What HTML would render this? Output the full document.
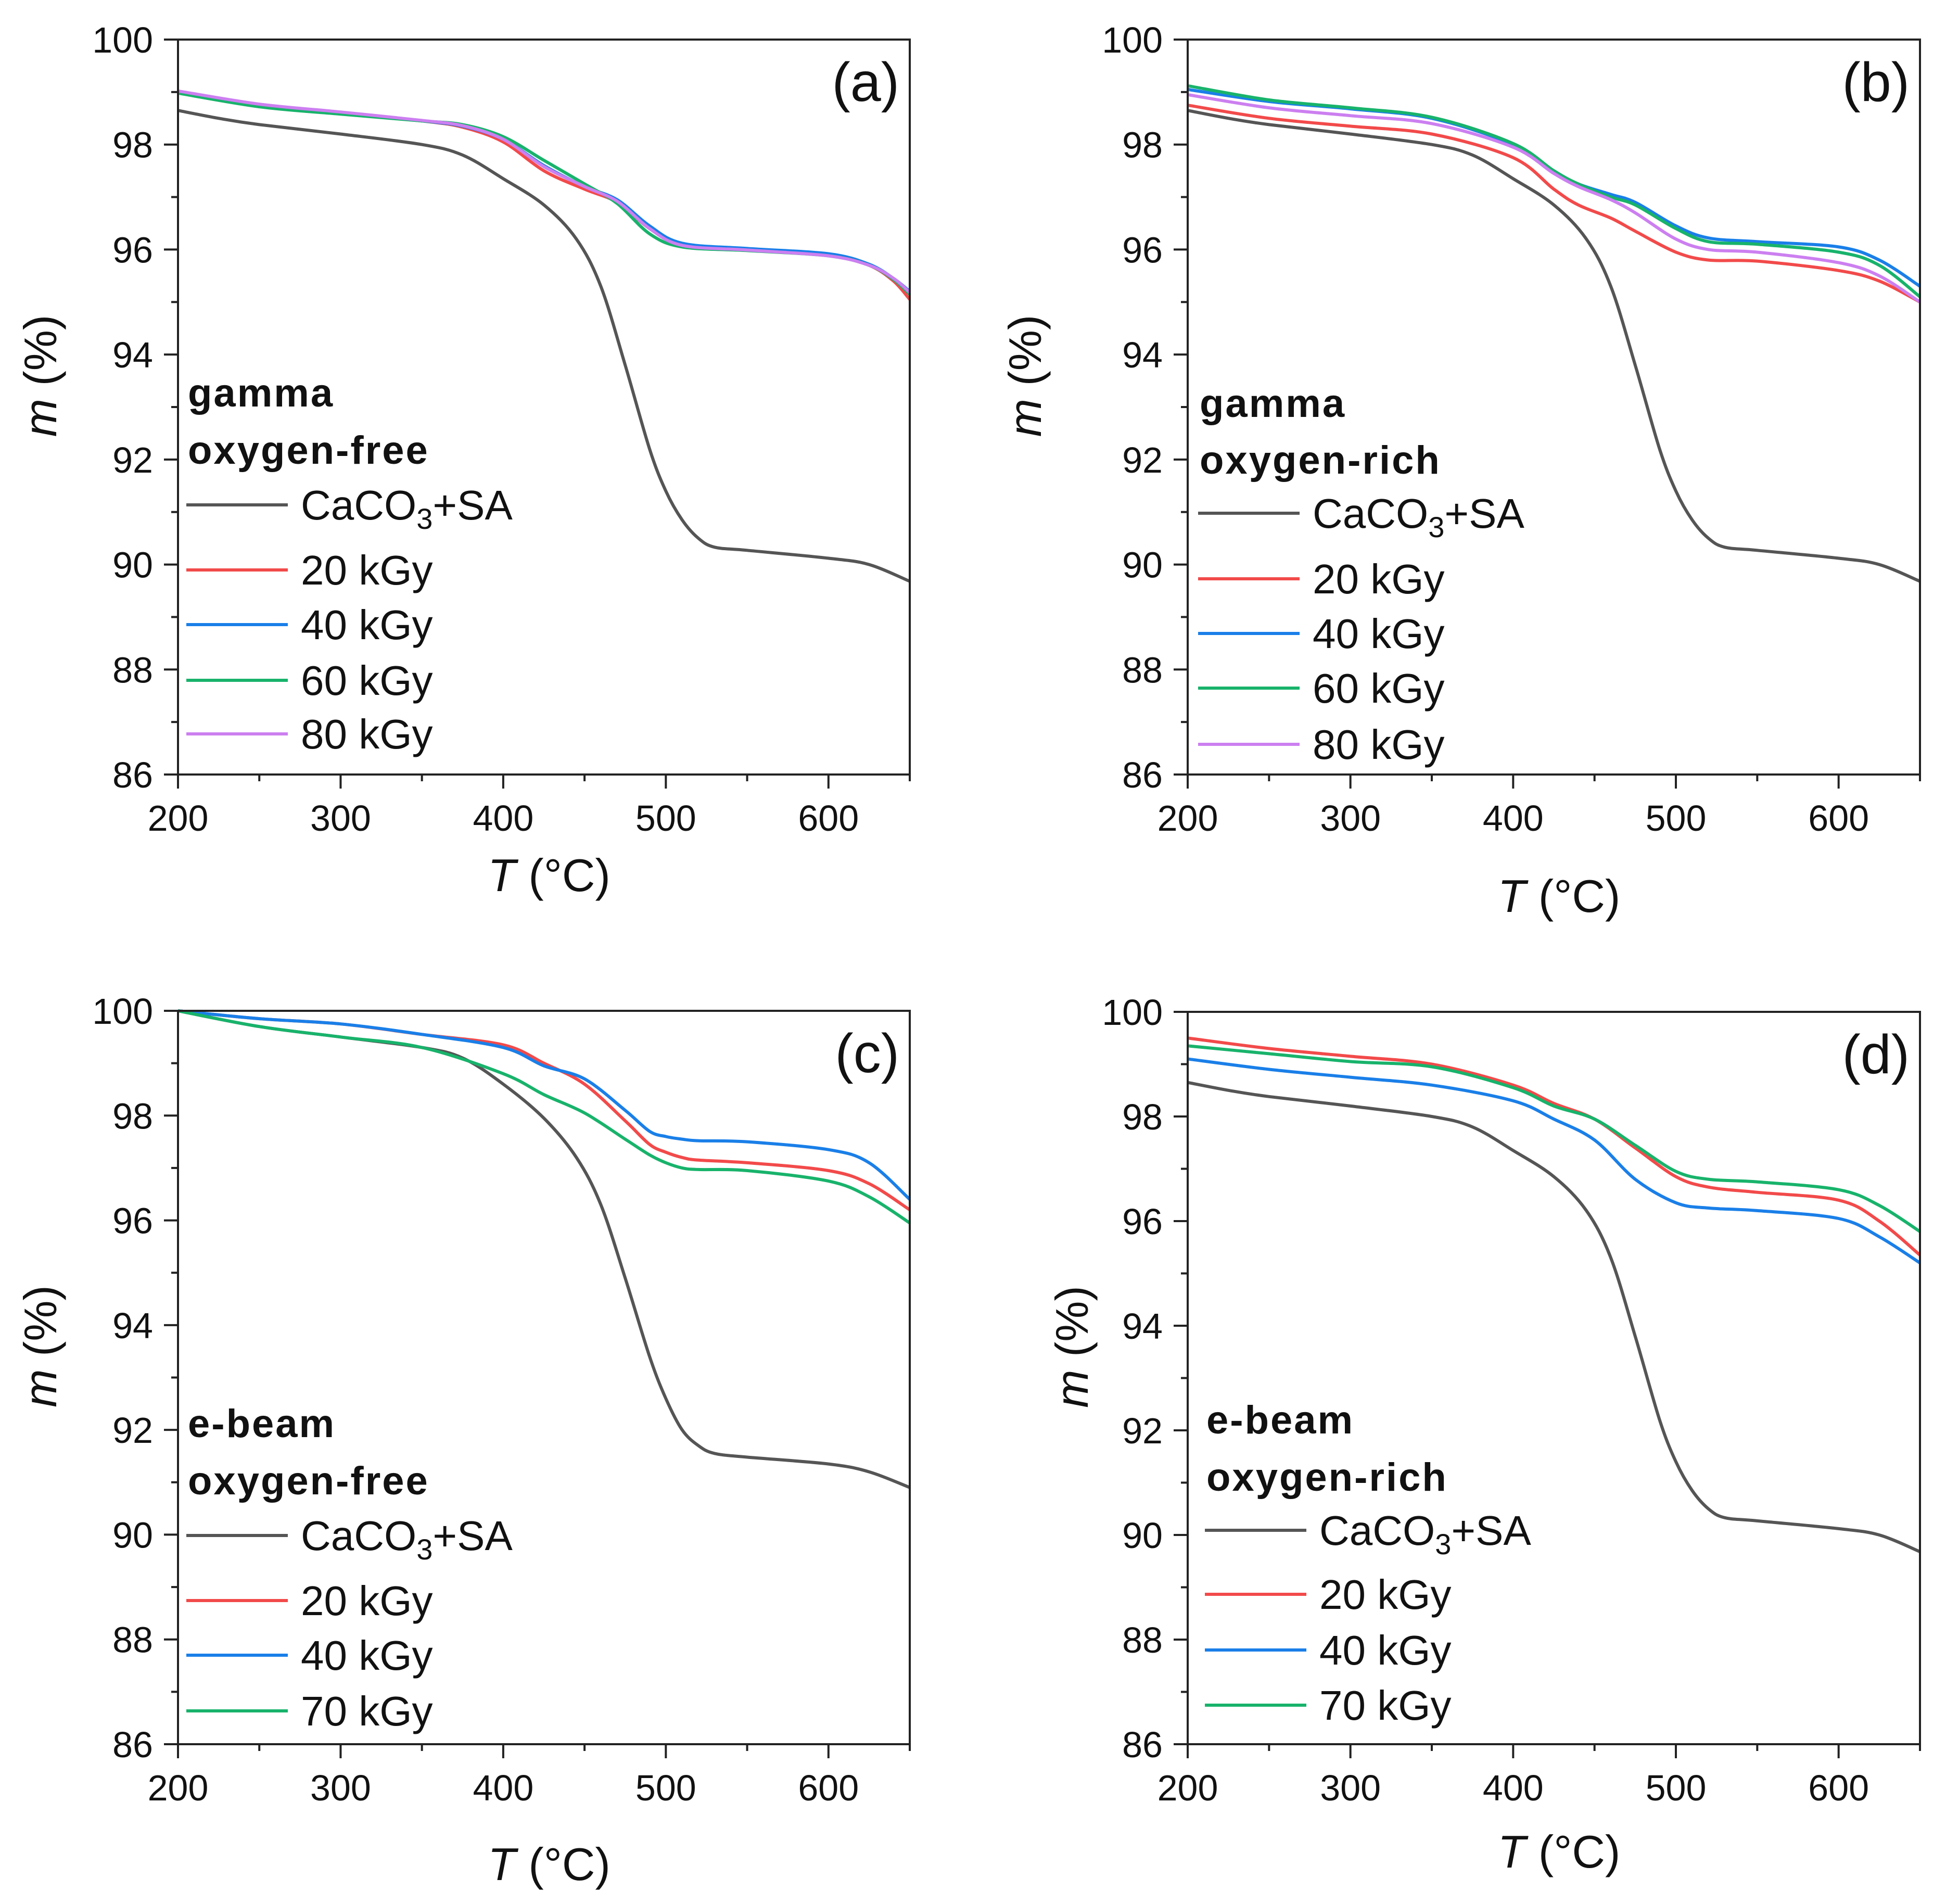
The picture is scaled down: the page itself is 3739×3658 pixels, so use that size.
<!DOCTYPE html>
<html><head><meta charset="utf-8"><style>
html,body{margin:0;padding:0;background:#fff}
svg{display:block;font-family:"Liberation Sans",Arial,sans-serif}
</style></head>
<body>
<svg id="fig" width="3739" height="3658" viewBox="0 0 3739 3658" xmlns="http://www.w3.org/2000/svg"></svg>
<script>
// ---- data ----
const grayT = [200,225,250,300,350,375,400,425,445,460,475,490,500,510,520,530,550,600,625,650];
const grayM = [98.65,98.5,98.38,98.2,98.0,97.8,97.35,96.85,96.2,95.3,93.8,92.2,91.4,90.85,90.5,90.33,90.27,90.12,90.0,89.68];
const grayCT = [200,250,300,350,375,400,425,445,460,475,490,500,510,520,530,550,600,625,650];
const grayCM = [100,99.7,99.5,99.3,99.1,98.6,97.95,97.2,96.3,94.9,93.4,92.6,92.0,91.7,91.55,91.48,91.35,91.2,90.9];

const aT = [200,250,300,350,375,400,425,450,470,490,510,550,600,625,640,650];
const aRed = [99.0,98.75,98.6,98.45,98.33,98.05,97.5,97.15,96.9,96.4,96.1,96.0,95.9,95.7,95.4,95.05];
const aBlue = [99.0,98.75,98.6,98.45,98.35,98.1,97.6,97.2,96.95,96.45,96.12,96.02,95.92,95.72,95.45,95.2];
const aGreen = [98.98,98.72,98.58,98.45,98.38,98.15,97.7,97.25,96.88,96.3,96.05,95.98,95.88,95.7,95.43,95.15];
const aPurple = [99.02,98.77,98.62,98.46,98.36,98.1,97.58,97.2,96.92,96.4,96.08,95.99,95.88,95.7,95.45,95.18];

const bT = [200,250,300,350,400,425,440,460,475,500,520,550,600,625,650];
const bRed = [98.75,98.5,98.35,98.2,97.75,97.15,96.85,96.6,96.35,95.95,95.8,95.78,95.6,95.4,95.0];
const bBlue = [99.05,98.82,98.68,98.5,98.0,97.5,97.25,97.05,96.9,96.45,96.22,96.15,96.05,95.8,95.3];
const bGreen = [99.12,98.85,98.7,98.52,98.02,97.5,97.25,97.0,96.85,96.4,96.15,96.1,95.95,95.7,95.1];
const bPurple = [98.95,98.7,98.55,98.4,97.95,97.45,97.2,96.95,96.7,96.2,96.0,95.95,95.75,95.5,95.0];

const cT = [200,250,300,350,400,425,450,475,490,500,510,520,550,600,625,650];
const cRed = [100,99.85,99.75,99.55,99.35,99.0,98.6,97.9,97.45,97.3,97.2,97.15,97.1,96.95,96.7,96.2];
const cBlue = [100,99.85,99.75,99.55,99.3,98.95,98.7,98.1,97.7,97.6,97.55,97.52,97.5,97.35,97.1,96.4];
const cGreen = [100,99.7,99.5,99.3,98.8,98.4,98.05,97.55,97.25,97.1,97.0,96.97,96.95,96.75,96.45,95.95];

const dT = [200,250,300,350,400,425,450,475,500,520,550,600,625,650];
const dRed = [99.5,99.3,99.15,99.0,98.6,98.25,97.95,97.4,96.85,96.65,96.55,96.4,96.0,95.35];
const dGreen = [99.35,99.2,99.05,98.95,98.55,98.2,97.95,97.45,96.95,96.8,96.75,96.6,96.3,95.8];
const dBlue = [99.1,98.9,98.75,98.6,98.3,97.95,97.55,96.8,96.35,96.25,96.2,96.05,95.7,95.2];

const xTicks = [200,300,400,500,600];
const yTicks = [86,88,90,92,94,96,98,100];

const COL = {gray:'#555555', red:'#f24a4a', blue:'#1a7fe8', green:'#18b36b', purple:'#cc7ff0'};

const svg = document.getElementById('fig');
const NS = 'http://www.w3.org/2000/svg';
function mk(tag, attrs, parent){ const e=document.createElementNS(NS,tag); for(const k in attrs) e.setAttribute(k,attrs[k]); (parent||svg).appendChild(e); return e; }

const panels = [
 {id:'a', L:342,R:1748,T:76,B:1488, label:'(a)', g1:'gamma', g2:'oxygen-free', xtY:1712, ytX:108,
  legY:[755,865,970,1095,1200,1307,1410], legX:358,
  series:[['CaCO3+SA',grayT,grayM,'gray'],['20 kGy',aT,aRed,'red'],['40 kGy',aT,aBlue,'blue'],['60 kGy',aT,aGreen,'green'],['80 kGy',aT,aPurple,'purple']]},
 {id:'b', L:2282,R:3689,T:76,B:1488, label:'(b)', g1:'gamma', g2:'oxygen-rich', xtY:1752, ytX:2000,
  legY:[775,884,986,1112,1217,1322,1430], legX:2302,
  series:[['CaCO3+SA',grayT,grayM,'gray'],['20 kGy',bT,bRed,'red'],['40 kGy',bT,bBlue,'blue'],['60 kGy',bT,bGreen,'green'],['80 kGy',bT,bPurple,'purple']]},
 {id:'c', L:342,R:1748,T:1942,B:3351, label:'(c)', g1:'e-beam', g2:'oxygen-free', xtY:3612, ytX:108,
  legY:[2735,2845,2950,3075,3180,3287], legX:358,
  series:[['CaCO3+SA',grayCT,grayCM,'gray'],['20 kGy',cT,cRed,'red'],['40 kGy',cT,cBlue,'blue'],['70 kGy',cT,cGreen,'green']]},
 {id:'d', L:2282,R:3689,T:1944,B:3351, label:'(d)', g1:'e-beam', g2:'oxygen-rich', xtY:3588, ytX:2090,
  legY:[2728,2838,2940,3063,3170,3276], legX:2315,
  series:[['CaCO3+SA',grayT,grayM,'gray'],['20 kGy',dT,dRed,'red'],['40 kGy',dT,dBlue,'blue'],['70 kGy',dT,dGreen,'green']]}
];

function pathFrom(px){
  let d='M'+px[0][0].toFixed(1)+','+px[0][1].toFixed(1);
  for(let i=0;i<px.length-1;i++){
    const p0=px[Math.max(0,i-1)],p1=px[i],p2=px[i+1],p3=px[Math.min(px.length-1,i+2)];
    const c1=[p1[0]+(p2[0]-p0[0])/6,p1[1]+(p2[1]-p0[1])/6];
    const c2=[p2[0]-(p3[0]-p1[0])/6,p2[1]-(p3[1]-p1[1])/6];
    d+=' C'+c1[0].toFixed(1)+','+c1[1].toFixed(1)+' '+c2[0].toFixed(1)+','+c2[1].toFixed(1)+' '+p2[0].toFixed(1)+','+p2[1].toFixed(1);
  }
  return d;
}

panels.forEach(P=>{
  const g=mk('g',{});
  
  
  const xs=v=>P.L+(v-200)/(650-200)*(P.R-P.L);
  const ys=v=>P.B-(v-86)/(100-86)*(P.B-P.T);
  const sg=mk('g',{fill:'none','stroke-width':6,'stroke-linejoin':'round'},g);
  P.series.forEach(s=>{
    const pts=s[1].map((t,i)=>[xs(t),ys(s[2][i])]);
    const p=mk('path',{d:pathFrom(pts),stroke:COL[s[3]]},sg);
    
    
  });
  const fr=mk('rect',{x:P.L,y:P.T,width:P.R-P.L,height:P.B-P.T,fill:'none',stroke:'#222','stroke-width':4},g);
  
  
  for(let v=200;v<=650;v+=50){
    const maj=v%100===0;
    mk('line',{x1:xs(v),x2:xs(v),y1:P.B,y2:P.B+(maj?27:13),stroke:'#222','stroke-width':4},g);
  }
  xTicks.forEach(v=>{
    const t=mk('text',{x:xs(v),y:P.B+108,'font-size':70,'text-anchor':'middle',fill:'#111'},g);
    t.textContent=v;
    
    
  });
  for(let v=86;v<=100;v+=1){
    const maj=v%2===0;
    mk('line',{x1:P.L,x2:P.L-(maj?27:13),y1:ys(v),y2:ys(v),stroke:'#222','stroke-width':4},g);
  }
  yTicks.forEach(v=>{
    const t=mk('text',{x:P.L-48,y:ys(v)+25,'font-size':70,'text-anchor':'end',fill:'#111'},g);
    t.textContent=v;
    
    
  });
  const xt=mk('text',{x:(P.L+P.R)/2+10,y:P.xtY,'font-size':88,'text-anchor':'middle',fill:'#111'},g);
  xt.innerHTML='<tspan font-style="italic">T</tspan> (°C)';
  
  
  const yc=(P.T+P.B)/2-60;
  const yt=mk('text',{x:P.ytX,y:yc,'font-size':88,'text-anchor':'middle',fill:'#111',transform:'rotate(-90 '+P.ytX+' '+yc+')'},g);
  yt.innerHTML='<tspan font-style="italic">m</tspan> (%)';
  
  
  const pl=mk('text',{x:P.R-20,y:P.T+118,'font-size':106,'text-anchor':'end',fill:'#111'},g);
  pl.textContent=P.label;
  
  
  const b1=mk('text',{x:P.legX+3,y:P.legY[0]+26,'font-size':76,'font-weight':'bold','letter-spacing':3,fill:'#111'},g);
  b1.textContent=P.g1;
  
  
  const b2=mk('text',{x:P.legX+3,y:P.legY[1]+26,'font-size':76,'font-weight':'bold','letter-spacing':3,fill:'#111'},g);
  b2.textContent=P.g2;
  
  
  P.series.forEach((s,i)=>{
    const y=P.legY[i+2];
    const ln=mk('line',{x1:P.legX,x2:P.legX+195,y1:y,y2:y,stroke:COL[s[3]],'stroke-width':6},g);
    
    
    const tx=mk('text',{x:P.legX+220,y:y+28,'font-size':80,fill:'#111'},g);
    if(s[0]==='CaCO3+SA') tx.innerHTML='CaCO<tspan font-size="56" dy="18">3</tspan><tspan dy="-18">+SA</tspan>';
    else tx.textContent=s[0];
    
    
  });
});
</script>
</body></html>
